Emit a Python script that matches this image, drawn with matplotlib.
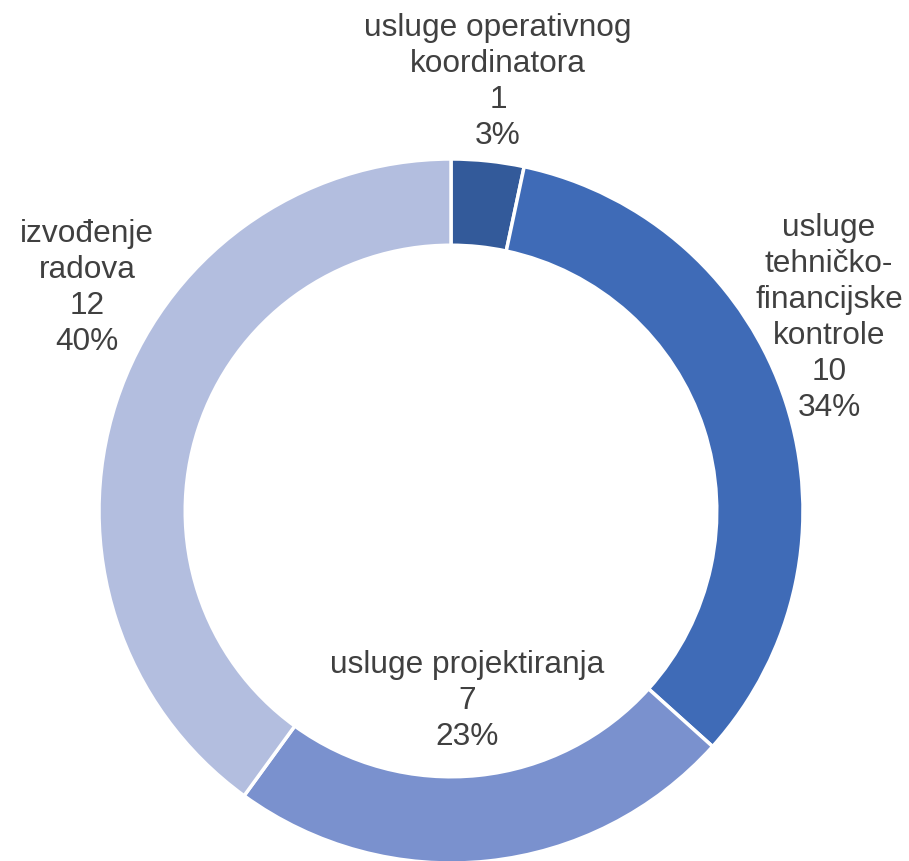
import matplotlib.pyplot as plt

plt.rcParams['font.family'] = ['Liberation Sans', 'DejaVu Sans']

categories = ['usluge operativnog\nkoordinatora', 'usluge\ntehničko-\nfinancijske\nkontrole',
              'usluge projektiranja', 'izvođenje\nradova']
values = [1, 10, 7, 12]
percent_labels = ['3%', '34%', '23%', '40%']
colors = ['#335A9A', '#3F6BB7', '#7A91CE', '#B3BEDF']

# label anchor positions in pixels (x, y from top)
label_px = [(498, 82), (829, 318), (467, 701), (87, 288)]

W, H = 909, 862
cx, cy, R = 451, 512, 352

fig = plt.figure(figsize=(W / 100, H / 100), dpi=100)
ax = fig.add_axes([0, 0, 1, 1])

ax.pie(values, colors=colors, startangle=90, counterclock=False, radius=1,
       wedgeprops=dict(width=0.245, edgecolor='white', linewidth=2.5))

# pie() resets limits, so set them afterwards
ax.set_xlim(-cx / R, (W - cx) / R)
ax.set_ylim(-(H - cy) / R, cy / R)
ax.set_aspect('equal')
ax.axis('off')

for cat, val, pct, (px, py) in zip(categories, values, percent_labels, label_px):
    ax.text((px - cx) / R, (cy - py) / R, f'{cat}\n{val}\n{pct}', ha='center', va='center',
            fontsize=22.8, color='#404040', linespacing=1.26)

fig.savefig('out.png', dpi=100)
